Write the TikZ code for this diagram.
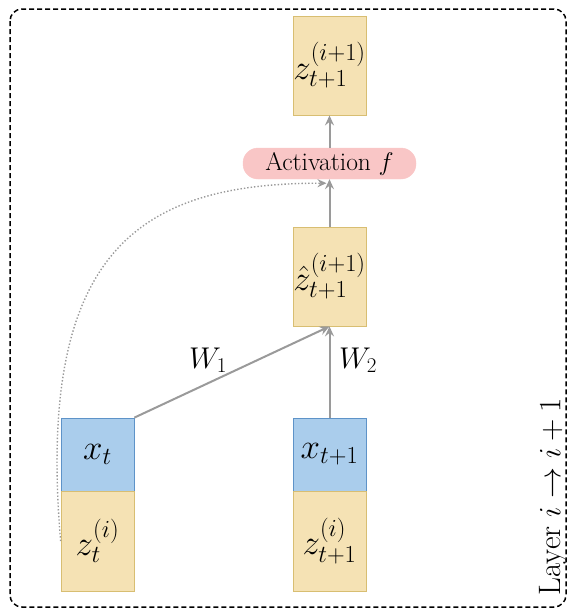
\RequirePackage{fix-cm}
\documentclass[tikz,border=0pt]{standalone}
\usepackage{amsmath}
\usetikzlibrary{arrows.meta}
\definecolor{yfill}{HTML}{F5E2B4}
\definecolor{ydraw}{HTML}{D8BE72}
\definecolor{bfill}{HTML}{AACDEC}
\definecolor{bdraw}{HTML}{5E93C8}
\definecolor{pfill}{HTML}{F9C6C6}
\definecolor{arrgray}{HTML}{9A9A9A}
\tikzset{
  ybox/.style={draw=ydraw, fill=yfill, line width=0.8pt, minimum width=73pt, inner sep=0pt, font=\fontsize{35}{40}\selectfont},
  bbox/.style={draw=bdraw, fill=bfill, line width=0.8pt, minimum width=73pt, minimum height=73pt, inner sep=0pt, font=\fontsize{35}{40}\selectfont},
  pill/.style={fill=pfill, draw=pfill, rounded corners=15pt, minimum width=173pt, minimum height=31pt, inner sep=0pt, font=\fontsize{25.5}{30}\selectfont},
  arr/.style={draw=arrgray, line width=2pt, -{Stealth[length=10pt,width=9pt,inset=3.5pt]}},
  dotarr/.style={draw=arrgray, line width=1.4pt, dotted, -{Stealth[length=9pt,width=8pt,inset=3pt]}},
  wlabel/.style={font=\fontsize{30}{34}\selectfont}
}
\begin{document}
\begin{tikzpicture}[x=1pt,y=-1pt]
\useasboundingbox (0,0) rectangle (570,611);
\draw[line width=1.5pt, dash pattern=on 5pt off 3pt, rounded corners=12pt] (10,9) rectangle (566,607);
\node[ybox, minimum height=99pt] (ztop) at (329.5,65.5) {$z^{(i+1)}_{t+1}$};
\node[pill] (act) at (329.5,163.5) {Activation $f$};
\node[ybox, minimum height=99pt] (zhat) at (329.5,276.5) {$\hat{z}^{(i+1)}_{t+1}$};
\node[bbox] (xt) at (97.5,454.5) {$x_t$};
\node[ybox, minimum height=100pt] (zt) at (97.5,541) {$z^{(i)}_t$};
\node[bbox] (xt1) at (329.5,454.5) {$x_{t+1}$};
\node[ybox, minimum height=100pt] (zt1) at (329.5,541) {$z^{(i)}_{t+1}$};
\coordinate (dotend) at ([xshift=-3pt,yshift=-4pt]act.south);
\draw[dotarr] (zt.west) .. controls (36,250) and (140,183) .. (dotend);
\draw[arr] (xt.north east) -- (zhat.south);
\draw[arr] (xt1.north) -- (zhat.south);
\draw[arr] (zhat.north) -- (act.south);
\draw[arr] (act.north) -- (ztop.south);
\node[wlabel] (w1) at (208,360) {$W_1$};
\node[wlabel] (w2) at (358,360) {$W_2$};
\node[rotate=90, anchor=west, font=\fontsize{31}{36}\selectfont] (layer) at (553,599) {Layer $i \to i+1$};
\end{tikzpicture}
\end{document}
